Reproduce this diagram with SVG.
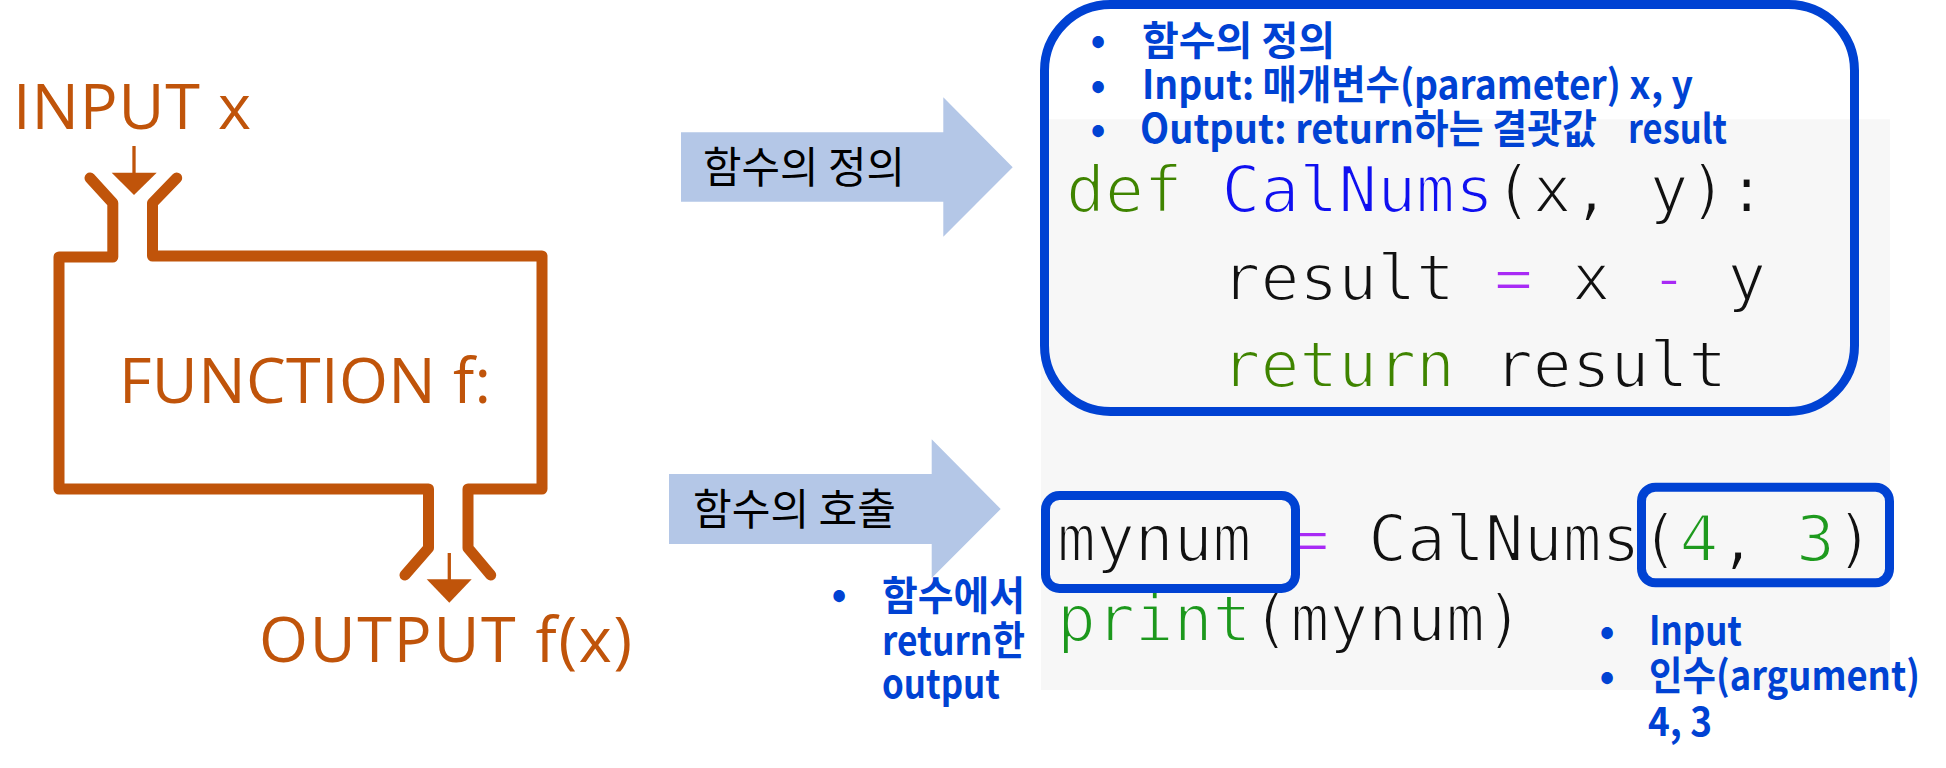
<svg xmlns="http://www.w3.org/2000/svg" width="1946" height="768" viewBox="0 0 1946 768">
<style>
.org{fill:none;stroke:#C0540A;stroke-width:11;stroke-linejoin:round;stroke-linecap:round}
.otx{font-family:"Open Sans","DejaVu Sans",sans-serif;font-size:63px;fill:#C0540A}
.blk{fill:#B4C7E7}
.atx{font-family:"Noto Sans CJK KR","Noto Sans",sans-serif;font-size:43px;fill:#000}
.code{font-family:"DejaVu Sans Mono","Liberation Mono",monospace;font-size:64.6px;fill:#111;stroke:#F7F7F7;stroke-width:2;paint-order:normal}
.kw{fill:#3F8400}
.fn{fill:#1010F0}
.op{fill:#A82AF5}
.pr{fill:#1C981C}
.num{fill:#1E9A1E}
.bl{fill:none;stroke:#0042D3;stroke-width:9}
.btx{font-family:"Noto Sans CJK KR","Noto Sans",sans-serif;font-weight:700;font-size:40px;fill:#0042D3}
</style>
<rect width="1946" height="768" fill="#fff"/>

<g id="function-machine">
  <path class="org" d="M90,178 L112.8,203 L112.8,257 L59,257 L59,489 L428.5,489 L428.5,548 L405,575"/>
  <path class="org" d="M176.7,178 L152.5,203 L152.5,256 L542,256 L542,489 L468,489 L468,548 L490.7,575"/>
  <line x1="134" y1="146" x2="134" y2="175" stroke="#C0540A" stroke-width="3.3"/>
  <polygon points="111.7,172.7 156.7,172.7 134,195" fill="#C0540A"/>
  <line x1="449.3" y1="553" x2="449.3" y2="582" stroke="#C0540A" stroke-width="3.3"/>
  <polygon points="426.7,579.3 471.7,579.3 449.3,602.7" fill="#C0540A"/>
  <text class="otx" x="13" y="129.3" textLength="238" lengthAdjust="spacing">INPUT x</text>
  <text class="otx" x="119" y="403" textLength="372" lengthAdjust="spacing">FUNCTION f:</text>
  <text class="otx" x="259" y="661.7" textLength="373" lengthAdjust="spacing">OUTPUT f(x)</text>
</g>

<g id="connectors">
  <polygon class="blk" points="681,132.3 943.3,132.3 943.3,97.3 1012.7,167.3 943.3,236.7 943.3,201.7 681,201.7"/>
  <text class="atx" x="703" y="183" textLength="202" lengthAdjust="spacingAndGlyphs">함수의 정의</text>
  <polygon class="blk" points="669,474 931.7,474 931.7,439.3 1000.7,509 931.7,578 931.7,544 669,544"/>
  <text class="atx" x="693" y="525" textLength="203" lengthAdjust="spacingAndGlyphs">함수의 호출</text>
</g>

<g id="code-screenshot">
  <rect x="1041" y="119.3" width="849" height="570.7" fill="#F7F7F7"/>
  <text class="code" y="212"><tspan class="kw" x="1066">def</tspan><tspan class="fn" x="1221.6">CalNums</tspan><tspan x="1493.9">(x, y):</tspan></text>
  <text class="code" y="300"><tspan x="1221.6">result</tspan><tspan class="op" x="1493.9">=</tspan><tspan x="1571.7">x</tspan><tspan class="op" x="1649.5">-</tspan><tspan x="1727.3">y</tspan></text>
  <text class="code" y="387"><tspan class="kw" x="1221.6">return</tspan><tspan x="1493.9">result</tspan></text>
  <text class="code" y="561"><tspan x="1057">mynum</tspan><tspan class="op" x="1290.4">=</tspan><tspan x="1368.2">CalNums(</tspan><tspan class="num" x="1679.4">4</tspan><tspan x="1718.3">,</tspan><tspan class="num" x="1796.1">3</tspan><tspan x="1835">)</tspan></text>
  <text class="code" y="641"><tspan class="pr" x="1057">print</tspan><tspan x="1251.5">(mynum)</tspan></text>
</g>

<g id="definition-box">
  <rect class="bl" x="1044.5" y="4.5" width="810" height="407" rx="66" ry="66"/>
  <text class="btx" x="1098" y="54" text-anchor="middle">•</text>
  <text class="btx" x="1098" y="99" text-anchor="middle">•</text>
  <text class="btx" x="1098" y="143" text-anchor="middle">•</text>
  <text class="btx" x="1142" y="55" textLength="193" lengthAdjust="spacingAndGlyphs">함수의 정의</text>
  <text class="btx" x="1142" y="99" textLength="551" lengthAdjust="spacingAndGlyphs">Input: 매개변수(parameter) x, y</text>
  <text class="btx" x="1140" y="143" textLength="457" lengthAdjust="spacingAndGlyphs">Output: return하는 결괏값</text>
  <text class="btx" x="1628" y="143" textLength="99" lengthAdjust="spacingAndGlyphs">result</text>
</g>

<g id="return-output-box">
  <rect class="bl" x="1045.5" y="495.5" width="250" height="93" rx="14" ry="14"/>
  <text class="btx" x="839" y="608" text-anchor="middle">•</text>
  <text class="btx" x="882" y="610" textLength="143" lengthAdjust="spacingAndGlyphs">함수에서</text>
  <text class="btx" x="882" y="655" textLength="143" lengthAdjust="spacingAndGlyphs">return한</text>
  <text class="btx" x="882" y="698" textLength="118" lengthAdjust="spacingAndGlyphs">output</text>
</g>

<g id="argument-box">
  <rect class="bl" x="1641.5" y="487.2" width="248" height="95.6" rx="14" ry="14"/>
  <text class="btx" x="1607" y="645" text-anchor="middle">•</text>
  <text class="btx" x="1607" y="690" text-anchor="middle">•</text>
  <text class="btx" x="1649" y="645" textLength="93" lengthAdjust="spacingAndGlyphs">Input</text>
  <text class="btx" x="1649" y="690" textLength="271" lengthAdjust="spacingAndGlyphs">인수(argument)</text>
  <text class="btx" x="1648" y="736" textLength="64" lengthAdjust="spacingAndGlyphs">4, 3</text>
</g>
</svg>
